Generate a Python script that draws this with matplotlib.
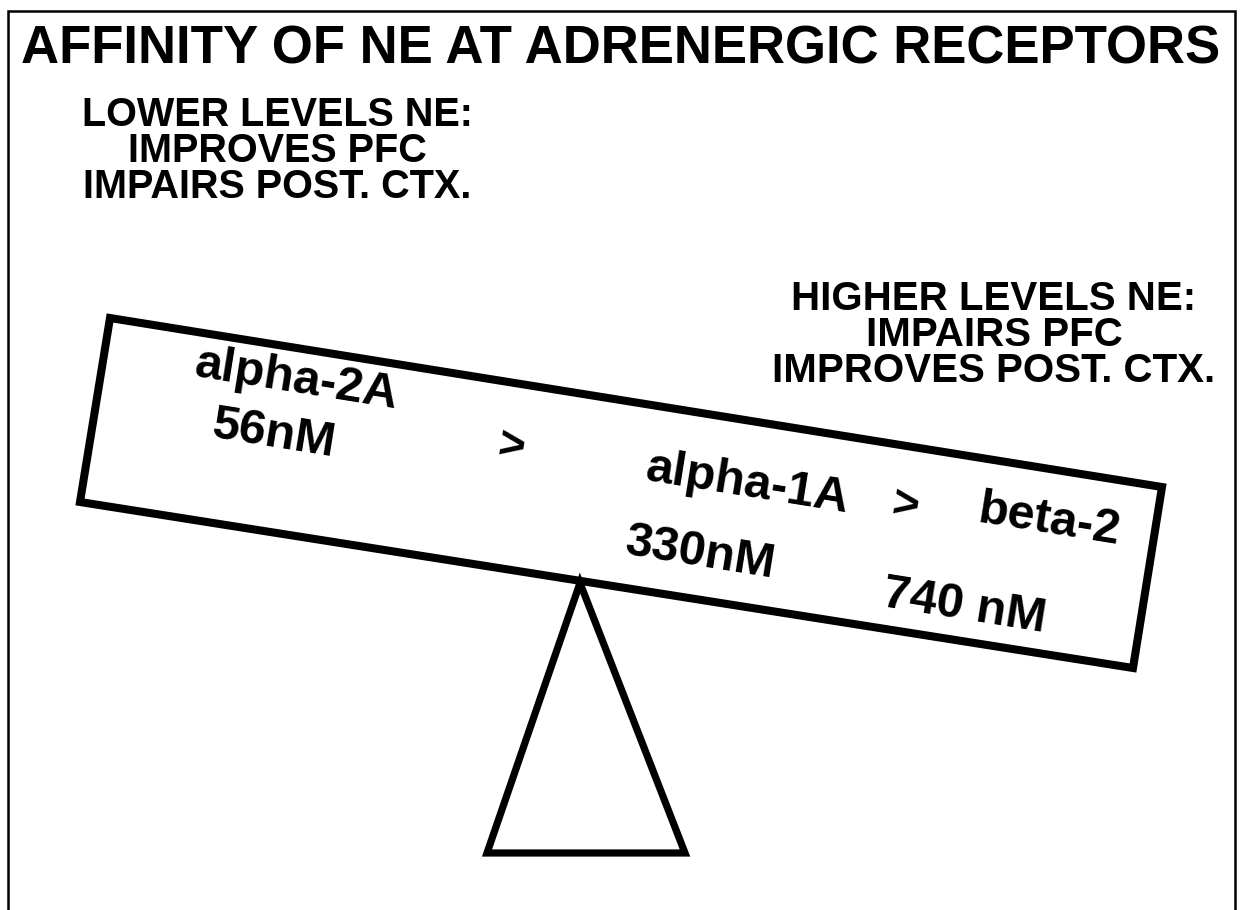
import matplotlib
matplotlib.use("Agg")
import matplotlib.pyplot as plt
from matplotlib.patches import Polygon

# ---- content ----
title = "AFFINITY OF NE AT ADRENERGIC RECEPTORS"
left_note = ["LOWER LEVELS NE:", "IMPROVES PFC", "IMPAIRS POST. CTX."]
right_note = ["HIGHER LEVELS NE:", "IMPAIRS PFC", "IMPROVES POST. CTX."]
receptors = ["alpha-2A", "alpha-1A", "beta-2"]
affinities = ["56nM", "330nM", "740 nM"]
comparator = ">"

# ---- geometry (pixel coordinates, y down) ----
W, H = 1241, 910
beam = [(110, 318), (1162, 487), (1133, 668), (80, 502)]
fulcrum = [(580, 583), (685, 853), (487, 853)]
tilt = -9.1

rec_pos = [(297, 380), (748, 484), (1050, 521)]
aff_pos = [(274, 434), (700, 554), (964, 607)]
cmp_pos = [(511, 448), (905, 507)]
left_pos = (277, 151)
right_pos = (994, 335)

plt.rcParams['font.family'] = ['Liberation Sans', 'DejaVu Sans']
fig = plt.figure(figsize=(W / 100, H / 100), dpi=100)
ax = fig.add_axes([0, 0, 1, 1])
ax.set_xlim(0, W)
ax.set_ylim(H, 0)
ax.axis('off')

# frame
ax.plot([8, 8, 1235, 1235], [H, 11, 11, H], color='black', lw=1.8,
        solid_joinstyle='miter')

ax.text(621, 49, title, ha='center', va='center', fontsize=38,
        fontweight='bold')

ax.text(*left_pos, "\n".join(left_note), ha='center', va='center',
        multialignment='center', fontsize=28.5, fontweight='bold',
        linespacing=0.95)
ax.text(*right_pos, "\n".join(right_note), ha='center', va='center',
        multialignment='center', fontsize=29, fontweight='bold',
        linespacing=0.95)

ax.add_patch(Polygon(beam, closed=True, fill=False, edgecolor='black',
                     lw=5.8, joinstyle='miter'))
ax.add_patch(Polygon(fulcrum, closed=True, fill=False, edgecolor='black',
                     lw=5.2, joinstyle='miter'))

for s, (x, y) in zip(receptors, rec_pos):
    ax.text(x, y, s, ha='center', va='center', fontsize=35, fontweight='bold',
            rotation=tilt, rotation_mode='anchor')
for s, (x, y) in zip(affinities, aff_pos):
    ax.text(x, y, s, ha='center', va='center', fontsize=35, fontweight='bold',
            rotation=tilt, rotation_mode='anchor')
for (x, y) in cmp_pos:
    ax.text(x, y, comparator, ha='center', va='center', fontsize=33,
            fontweight='bold', rotation=tilt, rotation_mode='anchor')

fig.savefig('out.png', dpi=100, facecolor='white')
